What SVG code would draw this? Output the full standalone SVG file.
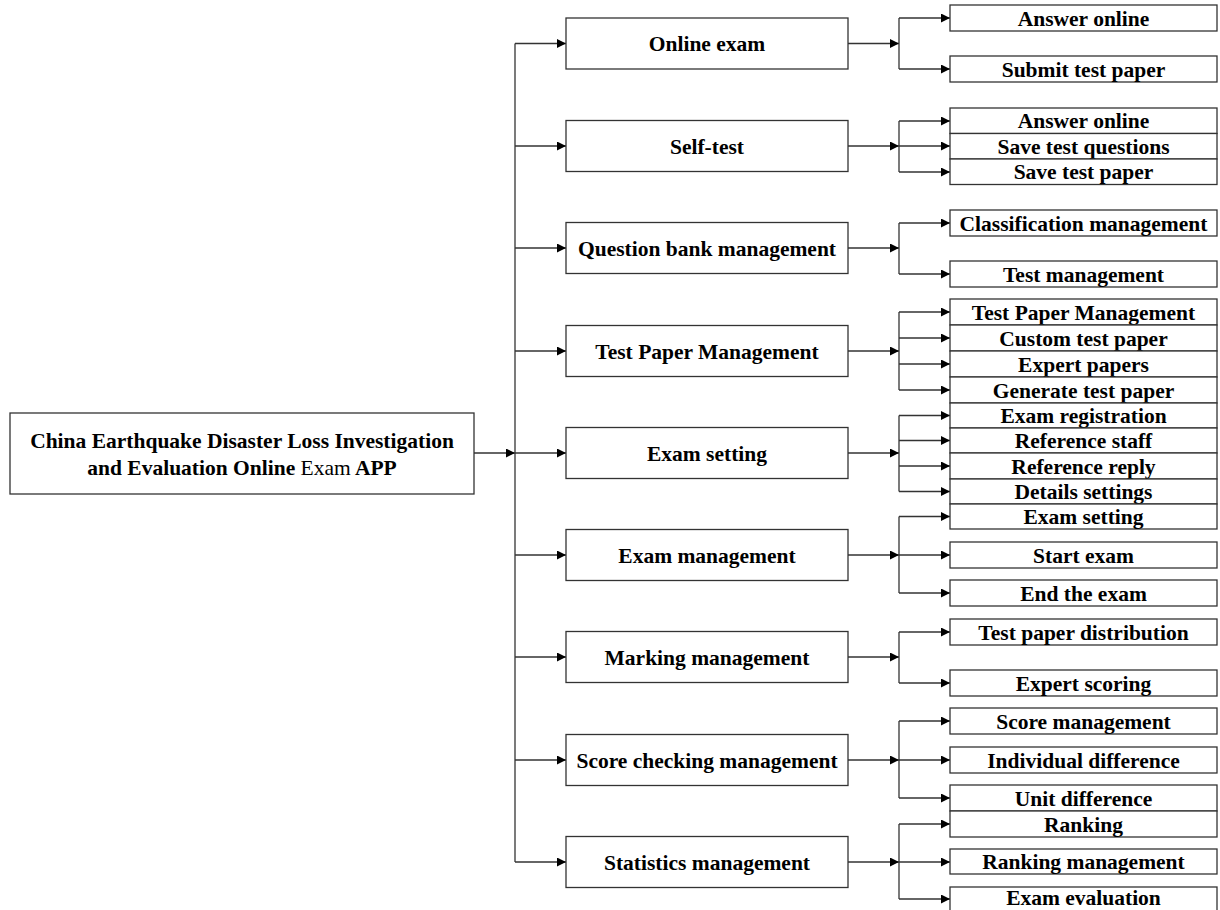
<svg xmlns="http://www.w3.org/2000/svg" width="1220" height="910" viewBox="0 0 1220 910">
<defs>
<marker id="ah" viewBox="0 0 10 10" markerWidth="10" markerHeight="9" refX="10" refY="5" orient="auto" markerUnits="userSpaceOnUse">
<path d="M0,0 L10,5 L0,10 z" fill="#000"/>
</marker>
<style>
rect{fill:#fff;stroke:#333;stroke-width:1.3}
text{font-family:"Liberation Serif","Times New Roman",serif;font-weight:bold;font-size:21.5px;fill:#000;text-anchor:middle}
.ln{fill:none;stroke:#333;stroke-width:1.3}
.ar{fill:none;stroke:#333;stroke-width:1.3;marker-end:url(#ah)}
</style>
</defs>
<rect x="0" y="0" width="1220" height="910" style="fill:#fff;stroke:none"/>
<g id="connectors">
<line class="ar" x1="474" y1="453" x2="515" y2="453"/>
<line class="ln" x1="515" y1="43.5" x2="515" y2="862"/>
<line class="ar" x1="515" y1="43.5" x2="566" y2="43.5"/>
<line class="ar" x1="515" y1="146" x2="566" y2="146"/>
<line class="ar" x1="515" y1="248" x2="566" y2="248"/>
<line class="ar" x1="515" y1="351" x2="566" y2="351"/>
<line class="ar" x1="515" y1="453" x2="566" y2="453"/>
<line class="ar" x1="515" y1="555" x2="566" y2="555"/>
<line class="ar" x1="515" y1="657" x2="566" y2="657"/>
<line class="ar" x1="515" y1="760" x2="566" y2="760"/>
<line class="ar" x1="515" y1="862" x2="566" y2="862"/>

<line class="ar" x1="848" y1="43.5" x2="899" y2="43.5"/>
<line class="ln" x1="899" y1="18" x2="899" y2="69"/>
<line class="ar" x1="899" y1="18" x2="950" y2="18"/>
<line class="ar" x1="899" y1="69" x2="950" y2="69"/>

<line class="ar" x1="848" y1="146" x2="899" y2="146"/>
<line class="ln" x1="899" y1="121" x2="899" y2="172"/>
<line class="ar" x1="899" y1="121" x2="950" y2="121"/>
<line class="ar" x1="899" y1="146" x2="950" y2="146"/>
<line class="ar" x1="899" y1="172" x2="950" y2="172"/>

<line class="ar" x1="848" y1="248" x2="899" y2="248"/>
<line class="ln" x1="899" y1="223" x2="899" y2="274"/>
<line class="ar" x1="899" y1="223" x2="950" y2="223"/>
<line class="ar" x1="899" y1="274" x2="950" y2="274"/>

<line class="ar" x1="848" y1="351" x2="899" y2="351"/>
<line class="ln" x1="899" y1="312" x2="899" y2="390"/>
<line class="ar" x1="899" y1="312" x2="950" y2="312"/>
<line class="ar" x1="899" y1="338" x2="950" y2="338"/>
<line class="ar" x1="899" y1="364" x2="950" y2="364"/>
<line class="ar" x1="899" y1="390" x2="950" y2="390"/>

<line class="ar" x1="848" y1="453" x2="899" y2="453"/>
<line class="ln" x1="899" y1="415.5" x2="899" y2="491.5"/>
<line class="ar" x1="899" y1="415.5" x2="950" y2="415.5"/>
<line class="ar" x1="899" y1="440.5" x2="950" y2="440.5"/>
<line class="ar" x1="899" y1="466" x2="950" y2="466"/>
<line class="ar" x1="899" y1="491.5" x2="950" y2="491.5"/>

<line class="ar" x1="848" y1="555" x2="899" y2="555"/>
<line class="ln" x1="899" y1="516.5" x2="899" y2="593"/>
<line class="ar" x1="899" y1="516.5" x2="950" y2="516.5"/>
<line class="ar" x1="899" y1="555" x2="950" y2="555"/>
<line class="ar" x1="899" y1="593" x2="950" y2="593"/>

<line class="ar" x1="848" y1="657" x2="899" y2="657"/>
<line class="ln" x1="899" y1="632" x2="899" y2="683"/>
<line class="ar" x1="899" y1="632" x2="950" y2="632"/>
<line class="ar" x1="899" y1="683" x2="950" y2="683"/>

<line class="ar" x1="848" y1="760" x2="899" y2="760"/>
<line class="ln" x1="899" y1="721" x2="899" y2="798"/>
<line class="ar" x1="899" y1="721" x2="950" y2="721"/>
<line class="ar" x1="899" y1="760" x2="950" y2="760"/>
<line class="ar" x1="899" y1="798" x2="950" y2="798"/>

<line class="ar" x1="848" y1="862" x2="899" y2="862"/>
<line class="ln" x1="899" y1="824" x2="899" y2="899"/>
<line class="ar" x1="899" y1="824" x2="950" y2="824"/>
<line class="ar" x1="899" y1="862" x2="950" y2="862"/>
<line class="ar" x1="899" y1="899" x2="950" y2="899"/>
</g>
<g id="root">
<rect x="10" y="413" width="464" height="81"/>
<text x="242" y="448">China Earthquake Disaster Loss Investigation</text>
<text x="242" y="475">and Evaluation Online <tspan font-weight="normal">Exam</tspan> APP</text>
</g>
<g id="m1"><rect x="566" y="18" width="282" height="51"/><text x="707" y="51">Online exam</text></g>
<g id="m2"><rect x="566" y="120.5" width="282" height="51"/><text x="707" y="153.5">Self-test</text></g>
<g id="m3"><rect x="566" y="222.5" width="282" height="51"/><text x="707" y="255.5">Question bank management</text></g>
<g id="m4"><rect x="566" y="325.5" width="282" height="51"/><text x="707" y="358.5">Test Paper Management</text></g>
<g id="m5"><rect x="566" y="427.5" width="282" height="51"/><text x="707" y="460.5">Exam setting</text></g>
<g id="m6"><rect x="566" y="529.5" width="282" height="51"/><text x="707" y="562.5">Exam management</text></g>
<g id="m7"><rect x="566" y="631.5" width="282" height="51"/><text x="707" y="664.5">Marking management</text></g>
<g id="m8"><rect x="566" y="734.5" width="282" height="51"/><text x="707" y="767.5">Score checking management</text></g>
<g id="m9"><rect x="566" y="836.5" width="282" height="51"/><text x="707" y="869.5">Statistics management</text></g>

<g id="c1a"><rect x="950" y="5" width="267" height="26"/><text x="1083.5" y="25.5">Answer online</text></g>
<g id="c1b"><rect x="950" y="56" width="267" height="26"/><text x="1083.5" y="76.5">Submit test paper</text></g>
<g id="c2a"><rect x="950" y="108" width="267" height="25.5"/><text x="1083.5" y="128">Answer online</text></g>
<g id="c2b"><rect x="950" y="133.5" width="267" height="25.5"/><text x="1083.5" y="153.5">Save test questions</text></g>
<g id="c2c"><rect x="950" y="159" width="267" height="25.5"/><text x="1083.5" y="179">Save test paper</text></g>
<g id="c3a"><rect x="950" y="210" width="267" height="26"/><text x="1083.5" y="230.5">Classification management</text></g>
<g id="c3b"><rect x="950" y="261" width="267" height="26"/><text x="1083.5" y="281.5">Test management</text></g>
<g id="c4a"><rect x="950" y="299" width="267" height="26"/><text x="1083.5" y="319.5">Test Paper Management</text></g>
<g id="c4b"><rect x="950" y="325" width="267" height="26"/><text x="1083.5" y="345.5">Custom test paper</text></g>
<g id="c4c"><rect x="950" y="351" width="267" height="26"/><text x="1083.5" y="371.5">Expert papers</text></g>
<g id="c4d"><rect x="950" y="377" width="267" height="26"/><text x="1083.5" y="397.5">Generate test paper</text></g>
<g id="c5a"><rect x="950" y="403" width="267" height="25"/><text x="1083.5" y="423">Exam registration</text></g>
<g id="c5b"><rect x="950" y="428" width="267" height="25"/><text x="1083.5" y="448">Reference staff</text></g>
<g id="c5c"><rect x="950" y="453" width="267" height="26"/><text x="1083.5" y="473.5">Reference reply</text></g>
<g id="c5d"><rect x="950" y="479" width="267" height="25"/><text x="1083.5" y="499">Details settings</text></g>
<g id="c6a"><rect x="950" y="504" width="267" height="25"/><text x="1083.5" y="524">Exam setting</text></g>
<g id="c6b"><rect x="950" y="542" width="267" height="26"/><text x="1083.5" y="562.5">Start exam</text></g>
<g id="c6c"><rect x="950" y="580" width="267" height="26"/><text x="1083.5" y="600.5">End the exam</text></g>
<g id="c7a"><rect x="950" y="619" width="267" height="26"/><text x="1083.5" y="639.5">Test paper distribution</text></g>
<g id="c7b"><rect x="950" y="670" width="267" height="26"/><text x="1083.5" y="690.5">Expert scoring</text></g>
<g id="c8a"><rect x="950" y="708" width="267" height="26"/><text x="1083.5" y="728.5">Score management</text></g>
<g id="c8b"><rect x="950" y="747" width="267" height="26"/><text x="1083.5" y="767.5">Individual difference</text></g>
<g id="c8c"><rect x="950" y="785" width="267" height="26"/><text x="1083.5" y="805.5">Unit difference</text></g>
<g id="c9a"><rect x="950" y="811" width="267" height="26"/><text x="1083.5" y="831.5">Ranking</text></g>
<g id="c9b"><rect x="950" y="849" width="267" height="25"/><text x="1083.5" y="869">Ranking management</text></g>
<g id="c9c"><rect x="950" y="887" width="267" height="26"/><text x="1083.5" y="905">Exam evaluation</text></g>
</svg>
